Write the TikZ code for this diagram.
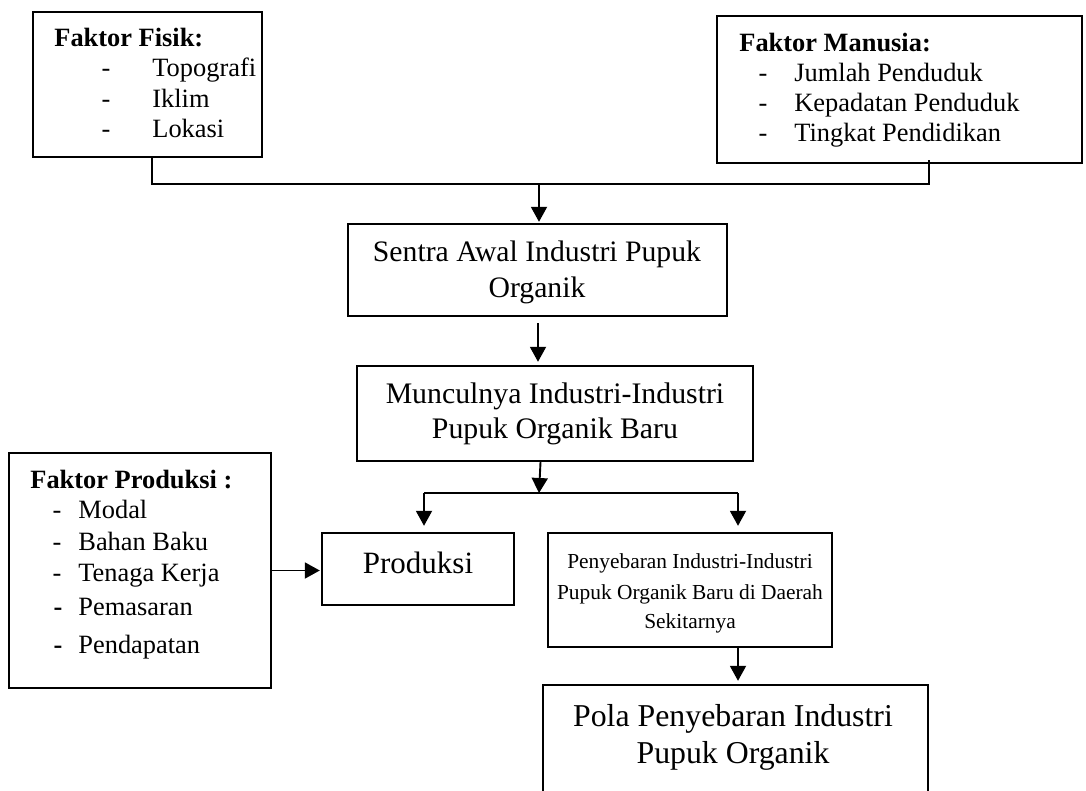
\documentclass[tikz,border=0pt]{standalone}
\usepackage{fontspec}
\setmainfont{Liberation Serif}
\usetikzlibrary{arrows.meta,fit,calc}
\begin{document}
\begin{tikzpicture}[x=0.5pt,y=-0.5pt,
  box/.style={draw, line width=1.2pt, inner sep=0pt},
  conn/.style={line width=0.95pt},
  arr/.style={line width=0.95pt, -{Triangle[length=7.5pt,width=8pt]}},
  lst/.style={anchor=base west, inner sep=0pt, font=\fontsize{13.2}{15}\selectfont},
  dsh/.style={anchor=base, inner sep=0pt, font=\fontsize{13.2}{15}\selectfont},
  ctr/.style={anchor=base, inner sep=0pt}]
\clip (0,0) rectangle (1086,791);
\fill[white] (0,0) rectangle (1086,791);

% boxes
\node[box, fit={(33,12) (262,157)}] (fisik) {};
\node[box, fit={(717,16) (1082,163)}] (manusia) {};
\node[box, fit={(348,224) (727,316)}] (sentra) {};
\node[box, fit={(357,366) (753,461)}] (muncul) {};
\node[box, fit={(9,453) (271,688)}] (fp) {};
\node[box, fit={(322,533) (514,605)}] (prod) {};
\node[box, fit={(548,533) (832,647)}] (sebar) {};
\node[box, fit={(543,685) (928,830)}] (pola) {};

% Faktor Fisik
\node[lst, font=\fontsize{13.2}{15}\selectfont\bfseries] (ff) at (54,47) {Faktor Fisik:};
\node[dsh] (ffd1) at (106,77) {-};
\node[dsh] (ffd2) at (106,108) {-};
\node[dsh] (ffd3) at (106,138) {-};
\node[lst] (ff1) at (152,77) {Topografi};
\node[lst] (ff2) at (152,108) {Iklim};
\node[lst] (ff3) at (152,138) {Lokasi};

% Faktor Manusia
\node[lst, font=\fontsize{13.2}{15}\selectfont\bfseries] (fm) at (739,52) {Faktor Manusia:};
\node[dsh] (fmd1) at (763,82) {-};
\node[dsh] (fmd2) at (763,112) {-};
\node[dsh] (fmd3) at (763,142) {-};
\node[lst] (fm1) at (794,82) {Jumlah Penduduk};
\node[lst] (fm2) at (794,112) {Kepadatan Penduduk};
\node[lst] (fm3) at (794,142) {Tingkat Pendidikan};

% Faktor Produksi
\node[lst, font=\fontsize{13.2}{15}\selectfont\bfseries] (fpt) at (30,488) {Faktor Produksi :};
\node[dsh] (fpd1) at (57,518) {-};
\node[dsh] (fpd2) at (57,550) {-};
\node[dsh] (fpd3) at (57,581) {-};
\node[dsh, font=\fontsize{13.2}{15}\selectfont\bfseries] (fpd4) at (58,615) {-};
\node[dsh, font=\fontsize{13.2}{15}\selectfont\bfseries] (fpd5) at (58,653) {-};
\node[lst] (fp1) at (78,518) {Modal};
\node[lst] (fp2) at (78,550) {Bahan Baku};
\node[lst] (fp3) at (78,581) {Tenaga Kerja};
\node[lst] (fp4) at (78,615) {Pemasaran};
\node[lst] (fp5) at (78,653) {Pendapatan};

% centred texts
\node[ctr, font=\fontsize{14.85}{17}\selectfont] (s1) at (537,262) {Sentra Awal Industri Pupuk};
\node[ctr, font=\fontsize{14.85}{17}\selectfont] (s2) at (537,297) {Organik};
\node[ctr, font=\fontsize{14.9}{17}\selectfont] (m1) at (555,403) {Munculnya Industri-Industri};
\node[ctr, font=\fontsize{14.9}{17}\selectfont] (m2) at (555,438) {Pupuk Organik Baru};
\node[ctr, font=\fontsize{15.5}{18}\selectfont] (p1) at (418,573) {Produksi};
\node[ctr, font=\fontsize{10.7}{13}\selectfont] (b1) at (690,568) {Penyebaran Industri-Industri};
\node[ctr, font=\fontsize{10.7}{13}\selectfont] (b2) at (690,599) {Pupuk Organik Baru di Daerah};
\node[ctr, font=\fontsize{10.7}{13}\selectfont] (b3) at (690,628) {Sekitarnya};
\node[ctr, font=\fontsize{15.9}{18}\selectfont] (o1) at (733,726) {Pola Penyebaran Industri};
\node[ctr, font=\fontsize{15.9}{18}\selectfont] (o2) at (733,763) {Pupuk Organik};

% connectors
\coordinate (jl) at (152,184);
\coordinate (jr) at (929,184);
\coordinate (jm) at (539,184);
\draw[conn] (fisik.south -| jl) -- (jl) -- (jr) -- ($(manusia.south -| jr)+(0,-4)$);
\draw[arr] (jm) -- ($(jm |- sentra.north)+(0,-1)$);

\coordinate (a2) at (538,0);
\draw[arr] ($(sentra.south -| a2)+(0,6)$) -- ($(muncul.north -| a2)+(0,-3)$);

\coordinate (jb) at (539,493);
\coordinate (bl) at (424,493);
\coordinate (br) at (738,493);
\draw[arr] ($(muncul.south -| jb)+(1.5,0)$) -- (jb);
\draw[conn] (bl) -- (br);
\draw[arr] (bl) -- ($(bl |- prod.north)+(0,-6)$);
\draw[arr] (br) -- ($(br |- sebar.north)+(0,-6)$);
\draw[arr] (sebar.south -| br) -- ($(pola.north -| br)+(0,-3)$);
\draw[arr] (fp.east) -- ($(fp.east -| prod.west)+(-1,0)$);
\end{tikzpicture}
\end{document}
